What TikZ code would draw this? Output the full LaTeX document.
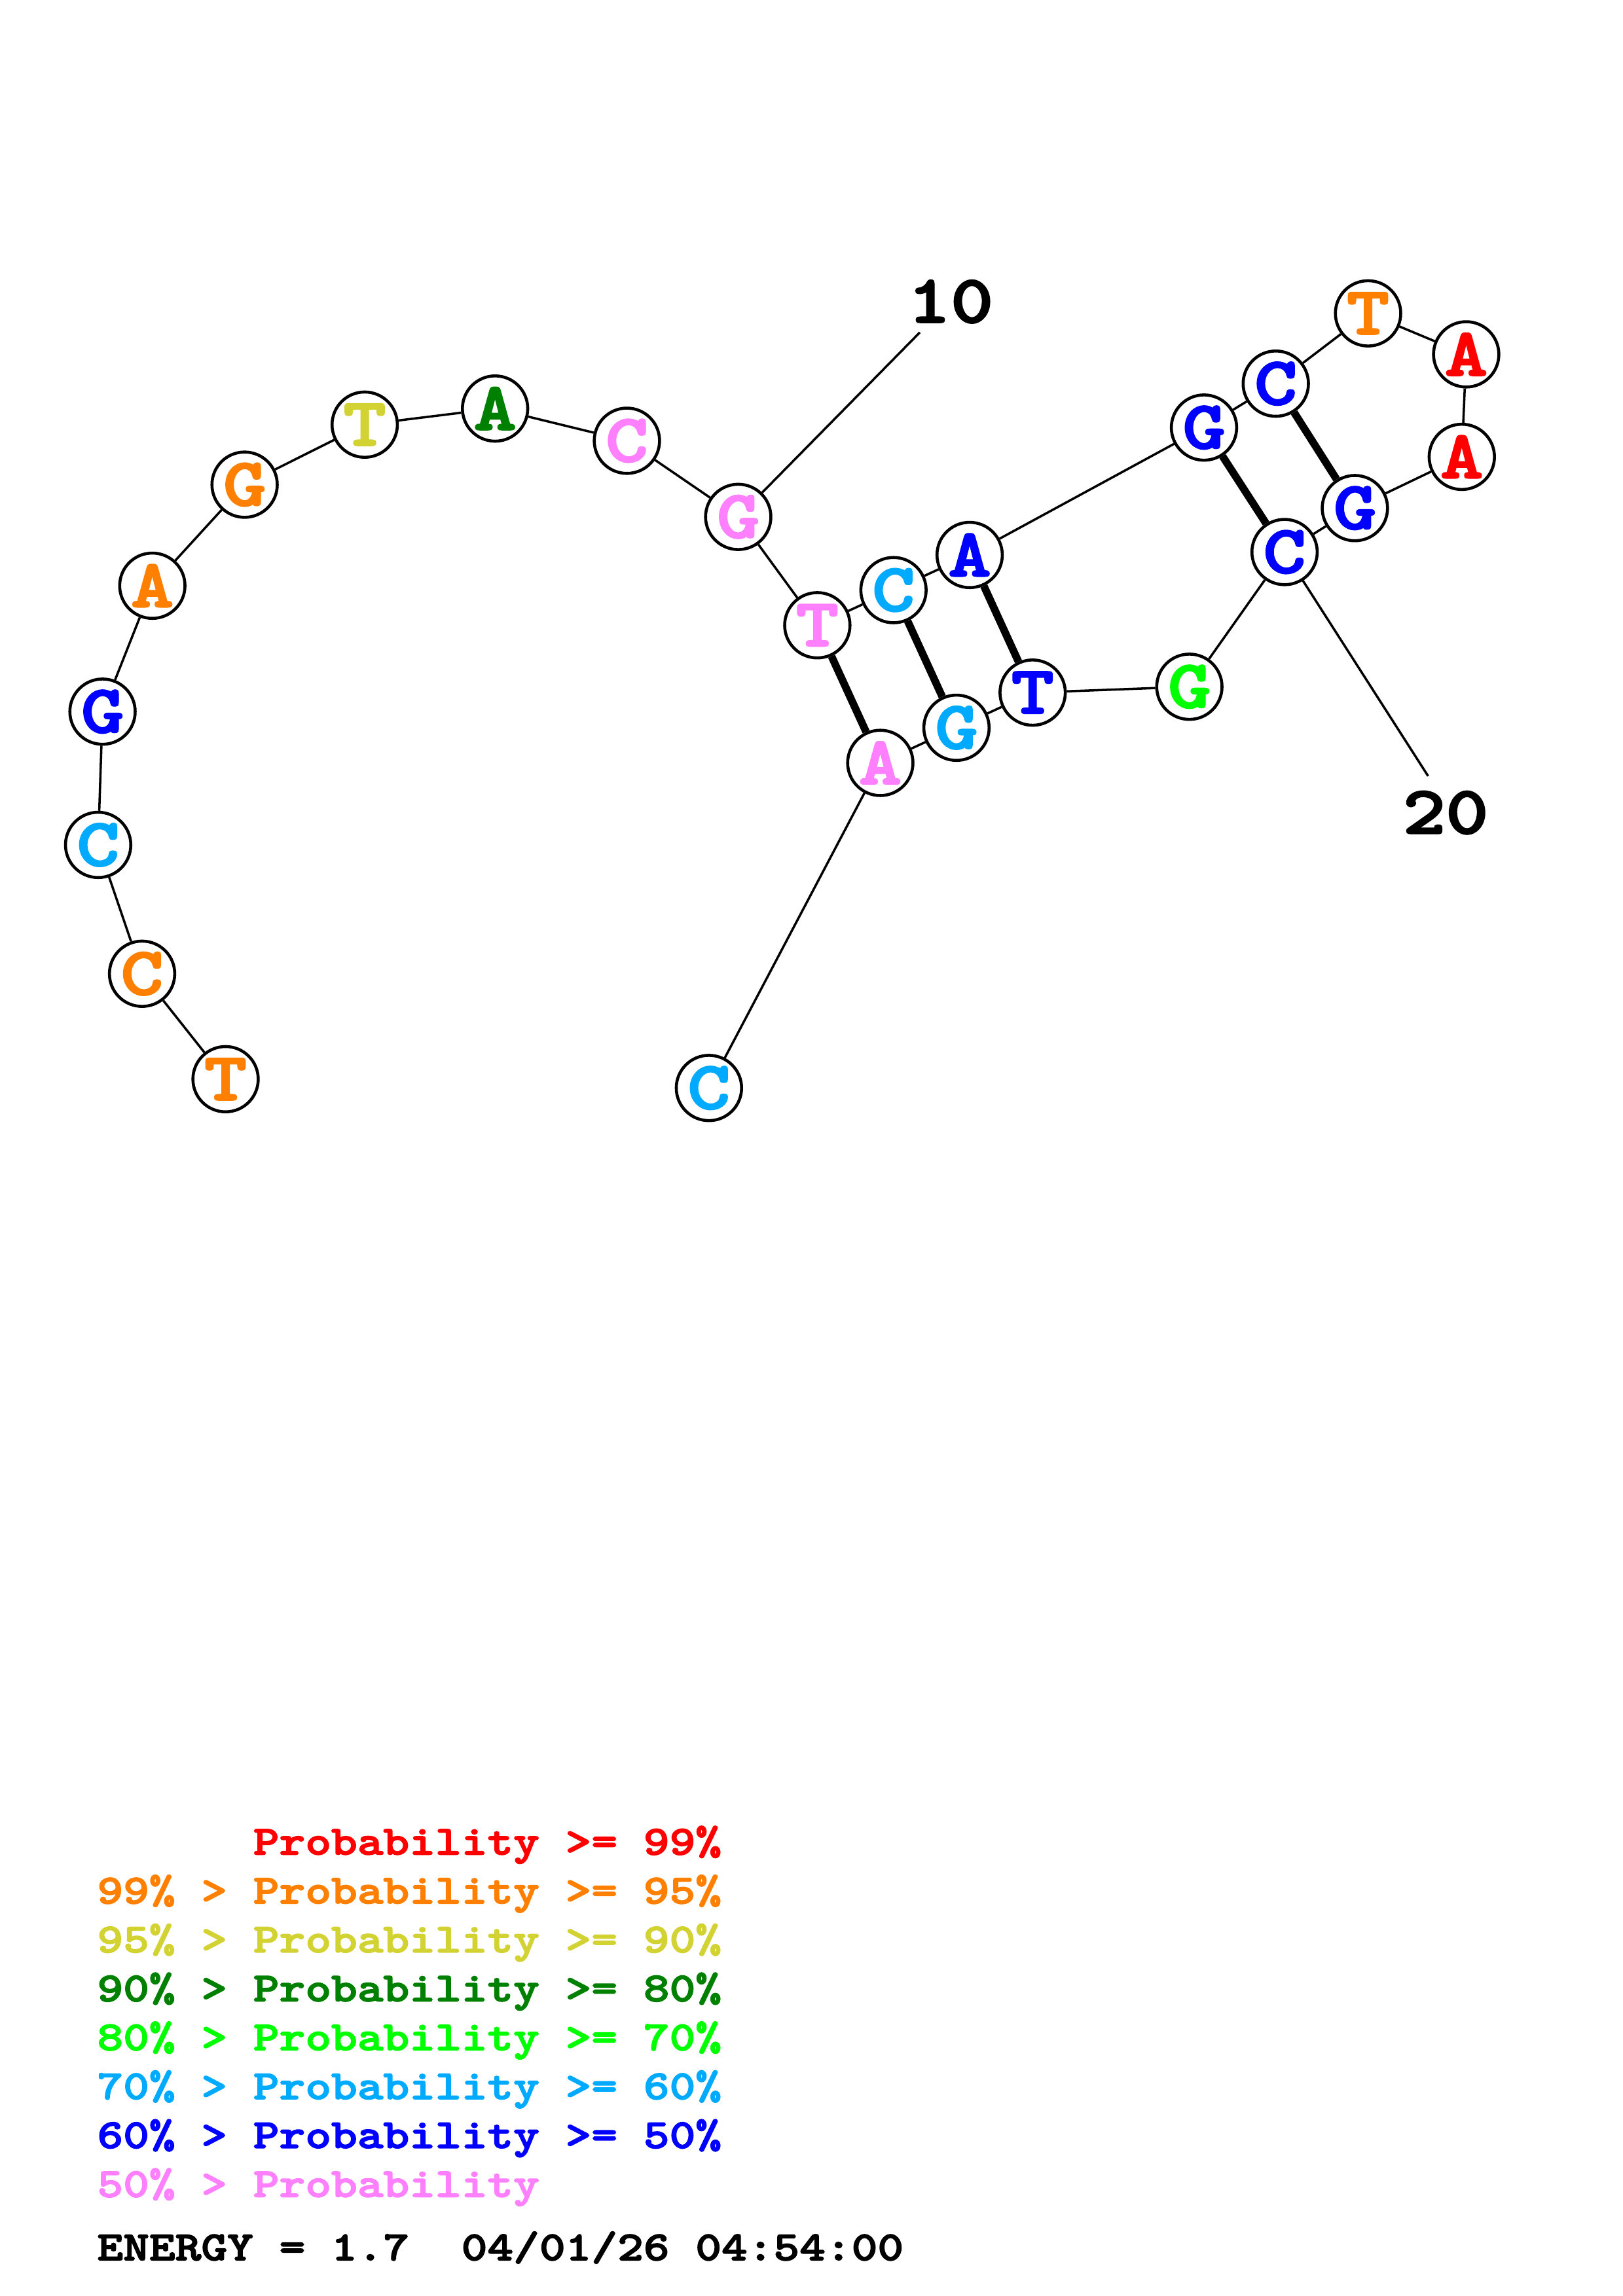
\documentclass[tikz,border=0pt]{standalone}
\usepackage{fontspec}
\setmainfont{lmmonolt10-bold.otf}[FakeStretch=1.2, FakeBold=2.5]
\usepackage{xcolor}
\definecolor{probRed}{RGB}{255, 0, 0}
\definecolor{probOrange}{RGB}{255, 128, 0}
\definecolor{probYellow}{RGB}{210, 210, 50}
\definecolor{probDarkGreen}{RGB}{0, 128, 0}
\definecolor{probGreen}{RGB}{0, 255, 0}
\definecolor{probSky}{RGB}{0, 170, 255}
\definecolor{probBlue}{RGB}{0, 0, 255}
\definecolor{probPink}{RGB}{255, 128, 255}

\begin{document}
\begin{tikzpicture}[x=0.018953cm, y=-0.018953cm,
    base/.style={circle, draw, line width=1.1pt, fill=white, inner sep=0pt, minimum size=0.845cm, font=\fontsize{25}{25}\selectfont},
    backbone/.style={line width=0.85pt},
    pairline/.style={line width=2.8pt},
    numlabel/.style={font=\fontsize{25}{25}\selectfont},
    legend/.style={anchor=base west, inner sep=0pt, font=\fontsize{15.2}{15.2}\selectfont}]
    \useasboundingbox (0,0) rectangle (1108,1568);

    % Bases
    \node[base, text=probOrange] (t1) at (154,737) {T};
    \node[base, text=probOrange] (c2) at (97,665) {C};
    \node[base, text=probSky] (c3) at (67,577) {C};
    \node[base, text=probBlue] (g4) at (70,486) {G};
    \node[base, text=probOrange] (a5) at (104,400) {A};
    \node[base, text=probOrange] (g6) at (167,331) {G};
    \node[base, text=probYellow] (t7) at (249,290) {T};
    \node[base, text=probDarkGreen] (a8) at (338,279) {A};
    \node[base, text=probPink] (c9) at (428,301) {C};
    \node[base, text=probPink] (g10) at (504,353) {G};
    \node[base, text=probPink] (t11) at (558,427) {T};
    \node[base, text=probSky] (c12) at (610,403) {C};
    \node[base, text=probBlue] (a13) at (662,379) {A};
    \node[base, text=probBlue] (g14) at (822,292) {G};
    \node[base, text=probBlue] (c15) at (871,262) {C};
    \node[base, text=probOrange] (t16) at (934,214) {T};
    \node[base, text=probRed] (a17) at (1001,242) {A};
    \node[base, text=probRed] (a18) at (998,312) {A};
    \node[base, text=probBlue] (g19) at (925,347) {G};
    \node[base, text=probBlue] (c20) at (877,377) {C};
    \node[base, text=probGreen] (g21) at (812,469) {G};
    \node[base, text=probBlue] (t22) at (705,473) {T};
    \node[base, text=probSky] (g23) at (653,497) {G};
    \node[base, text=probPink] (a24) at (601,521) {A};
    \node[base, text=probSky] (c25) at (484,743) {C};

    % Backbone
    \draw[backbone] (t1) -- (c2) -- (c3) -- (g4) -- (a5) -- (g6) -- (t7) -- (a8) -- (c9) -- (g10) -- (t11) -- (c12) -- (a13) -- (g14) -- (c15) -- (t16) -- (a17) -- (a18) -- (g19) -- (c20) -- (g21) -- (t22) -- (g23) -- (a24) -- (c25);

    % Pairs
    \draw[pairline] (t11) -- (a24);
    \draw[pairline] (c12) -- (g23);
    \draw[pairline] (a13) -- (t22);
    \draw[pairline] (g14) -- (c20);
    \draw[pairline] (c15) -- (g19);

    % Position marks
    \coordinate (tick10) at (628,227);
    \coordinate (tick20) at (975,530);
    \draw[backbone] (g10) -- (tick10);
    \draw[backbone] (c20) -- (tick20);
    \node[numlabel] (lab10) at (649,206) {10};
    \node[numlabel] (lab20) at (987,555) {20};

    % Legend
    \node[legend, text=probRed] (key1) at (66,1266.5) {\phantom{99\% > }Probability >= 99\%};
    \node[legend, text=probOrange] (key2) at (66,1299.9) {99\% > Probability >= 95\%};
    \node[legend, text=probYellow] (key3) at (66,1333.3) {95\% > Probability >= 90\%};
    \node[legend, text=probDarkGreen] (key4) at (66,1366.7) {90\% > Probability >= 80\%};
    \node[legend, text=probGreen] (key5) at (66,1400.1) {80\% > Probability >= 70\%};
    \node[legend, text=probSky] (key6) at (66,1433.5) {70\% > Probability >= 60\%};
    \node[legend, text=probBlue] (key7) at (66,1466.9) {60\% > Probability >= 50\%};
    \node[legend, text=probPink] (key8) at (66,1500.3) {50\% > Probability};
    \node[legend, text=black] (energy) at (66,1543.5) {ENERGY = 1.7\ \ 04/01/26 04:54:00};
\end{tikzpicture}
\end{document}
